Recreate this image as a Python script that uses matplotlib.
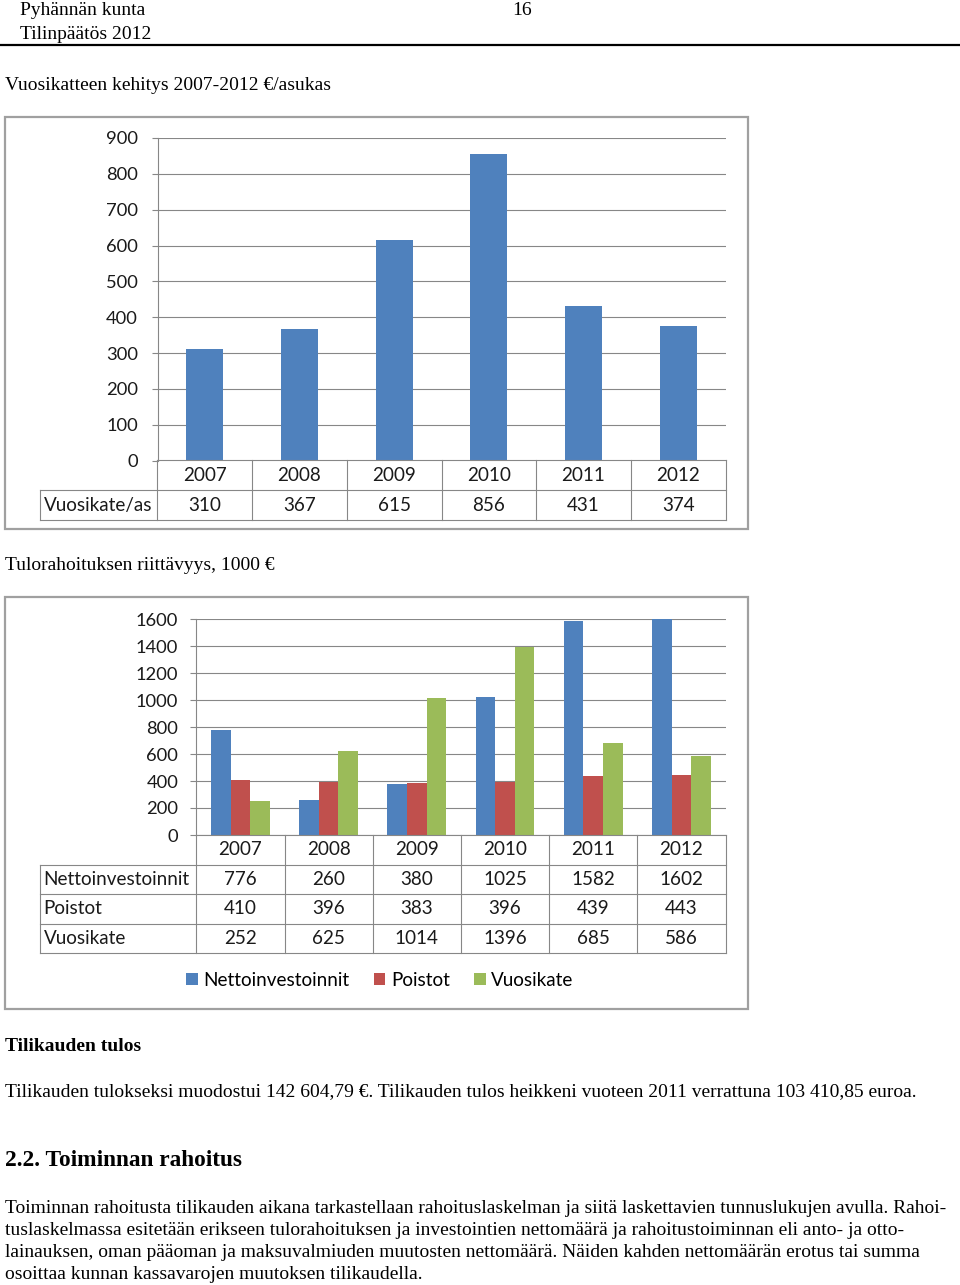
import matplotlib
matplotlib.use('Agg')
import matplotlib.pyplot as plt
from matplotlib.patches import Rectangle

# ---------------- data ----------------
years = ['2007', '2008', '2009', '2010', '2011', '2012']
vuosikate_as = [310, 367, 615, 856, 431, 374]
nettoinvestoinnit = [776, 260, 380, 1025, 1582, 1602]
poistot = [410, 396, 383, 396, 439, 443]
vuosikate = [252, 625, 1014, 1396, 685, 586]
series2_names = ['Nettoinvestoinnit', 'Poistot', 'Vuosikate']
chart1_row_label = 'Vuosikate/as'
yticks1 = [0, 100, 200, 300, 400, 500, 600, 700, 800, 900]
yticks2 = [0, 200, 400, 600, 800, 1000, 1200, 1400, 1600]

# ---------------- style ----------------
W, H = 960, 1285
SERIF = 'Liberation Serif'
SANS = 'Lato'
BLUE, RED, GREEN = '#4F81BD', '#C0504D', '#9BBB59'
GRID = '#878787'
FRAME = '#A0A0A0'
TFS = 13.6  # chart table/legend text size
YFS = 13.2  # y tick label size
BFS = 14.0  # body text size
DY = 2.5    # baseline correction for body text

fig = plt.figure(figsize=(W / 100, H / 100), dpi=100)
fig.patch.set_facecolor('white')


def fx(x):
    return x / W


def fy(y):
    return 1 - y / H


def rect(l, t, r, b):
    return [fx(l), fy(b), (r - l) / W, (b - t) / H]


def body(x, y, s, size=BFS, weight='normal'):
    fig.text(fx(x), fy(y + DY), s, fontfamily=SERIF, fontsize=size,
             fontweight=weight, va='center', ha='left', color='black')


# ---------------- header & body text ----------------
body(20, 8, 'Pyhännän kunta')
body(512, 8, '16')
body(20, 32, 'Tilinpäätös 2012')
fig.add_artist(plt.Line2D([0, 1], [fy(45), fy(45)], color='black', lw=1.6,
                          transform=fig.transFigure))
body(5, 83, 'Vuosikatteen kehitys 2007-2012 €/asukas')
body(5, 563, 'Tulorahoituksen riittävyys, 1000 €')
body(5, 1044, 'Tilikauden tulos', weight='bold')
body(5, 1089, 'Tilikauden tulokseksi muodostui 142 604,79 €. Tilikauden tulos '
     'heikkeni vuoteen 2011 verrattuna 103 410,85 euroa.')
body(5, 1158, '2.2. Toiminnan rahoitus', size=16.8, weight='bold')
para = [
    'Toiminnan rahoitusta tilikauden aikana tarkastellaan rahoituslaskelman ja siitä '
    'laskettavien tunnuslukujen avulla. Rahoi-',
    'tuslaskelmassa esitetään erikseen tulorahoituksen ja investointien nettomäärä ja '
    'rahoitustoiminnan eli anto- ja otto-',
    'lainauksen, oman pääoman ja maksuvalmiuden muutosten nettomäärä. Näiden kahden '
    'nettomäärän erotus tai summa',
    'osoittaa kunnan kassavarojen muutoksen tilikaudella.',
]
for i, line in enumerate(para):
    body(5, 1206 + 22 * i, line)

# ---------------- frames ----------------
for (l, t, r, b) in [(5, 117, 748, 529), (5, 597, 748, 1009)]:
    fig.add_artist(Rectangle((fx(l), fy(b)), (r - l) / W, (b - t) / H,
                             transform=fig.transFigure, fill=False,
                             edgecolor=FRAME, lw=1.6))


def style_axes(ax, yticks, ticklen_px, pad_px):
    for s in ['top', 'right', 'bottom']:
        ax.spines[s].set_visible(False)
    ax.spines['left'].set_color(GRID)
    ax.spines['left'].set_linewidth(0.8)
    ax.set_yticks(yticks)
    ax.set_yticklabels([str(v) for v in yticks], fontfamily=SANS, fontsize=YFS)
    ax.tick_params(axis='y', length=ticklen_px * 0.72, width=0.8, color=GRID,
                   pad=pad_px * 0.72, labelcolor='#1a1a1a')
    ax.set_xticks([])
    ax.yaxis.grid(True, color=GRID, lw=0.8)
    ax.set_axisbelow(True)
    ax.set_xlim(0, 6)


def draw_table(l_px, axis_px, r_px, top_px, row_px, rows, header_labels):
    nrows = 1 + len(rows)
    bottom_px = top_px + row_px * nrows
    tax = fig.add_axes(rect(l_px, top_px, r_px, bottom_px))
    x0 = -(axis_px - l_px) * 6 / (r_px - axis_px)
    tax.set_xlim(x0, 6)
    tax.set_ylim(nrows, 0)
    tax.axis('off')
    kw = dict(color=GRID, lw=0.8, clip_on=False)
    for c in range(7):
        tax.plot([c, c], [0, nrows], **kw)
    tax.plot([x0, x0], [1, nrows], **kw)
    tax.plot([0, 6], [0, 0], **kw)
    for rr in range(1, nrows + 1):
        tax.plot([x0, 6], [rr, rr], **kw)
    for c, yr in enumerate(years):
        tax.text(c + 0.5, 0.5, yr, ha='center', va='center',
                 fontfamily=SANS, fontsize=TFS, color='#1a1a1a')
    for ri, (lab, vals) in enumerate(zip(header_labels, rows)):
        tax.text(x0 + 4 * 6 / (r_px - axis_px), ri + 1.5, lab, ha='left',
                 va='center', fontfamily=SANS, fontsize=TFS, color='#1a1a1a')
        for c, v in enumerate(vals):
            tax.text(c + 0.5, ri + 1.5, str(v), ha='center', va='center',
                     fontfamily=SANS, fontsize=TFS, color='#1a1a1a')
    return tax


# ---------------- chart 1 ----------------
ax1 = fig.add_axes(rect(157.5, 138, 725.6, 460.5))
ax1.bar([i + 0.5 for i in range(6)], vuosikate_as, width=0.39, color=BLUE)
ax1.set_ylim(0, 900)
style_axes(ax1, yticks1, 6.5, 13)
draw_table(39.7, 157.5, 725.6, 460.5, 29.7, [vuosikate_as], [chart1_row_label])

# ---------------- chart 2 ----------------
ax2 = fig.add_axes(rect(196.3, 619, 725.6, 835))
bw = 0.222
handles = []
for k, (vals, col, name) in enumerate(zip([nettoinvestoinnit, poistot, vuosikate],
                                           [BLUE, RED, GREEN], series2_names)):
    b = ax2.bar([i + 0.5 + (k - 1) * bw for i in range(6)], vals, width=bw,
                color=col, label=name)
    handles.append(b)
ax2.set_ylim(0, 1600)
style_axes(ax2, yticks2, 6, 12)
draw_table(39.7, 196.3, 725.6, 835, 29.6,
           [nettoinvestoinnit, poistot, vuosikate], series2_names)

fig.legend(handles=handles, labels=series2_names, loc='center',
           bbox_to_anchor=(fx(380), fy(980)), ncol=3, frameon=False,
           prop={'family': SANS, 'size': TFS}, handlelength=0.6,
           handleheight=0.6, handletextpad=0.3, columnspacing=1.3)

fig.savefig('out.png', dpi=100, facecolor='white')
